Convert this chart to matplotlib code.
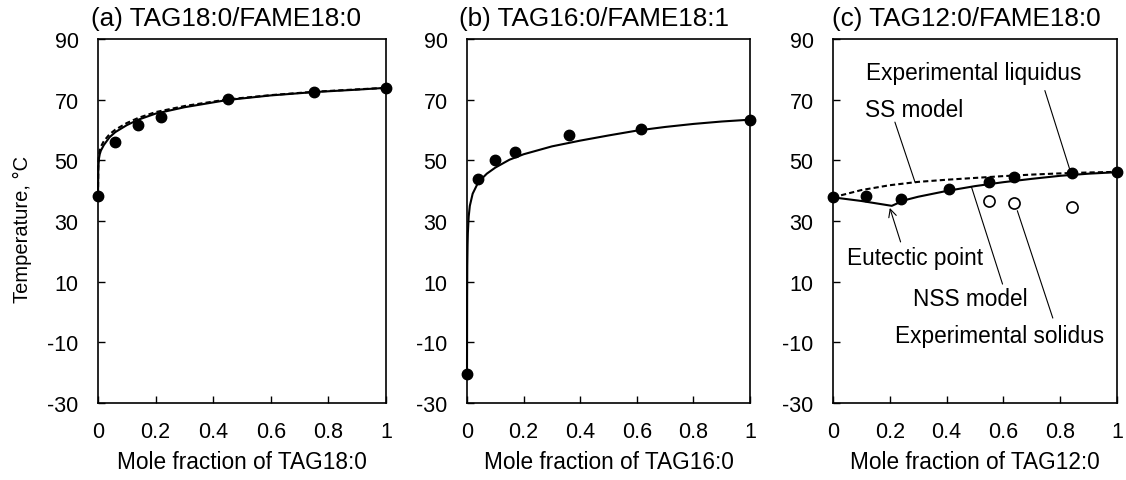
import numpy as np
import matplotlib.pyplot as plt

plt.rcParams['font.family'] = ['Liberation Sans', 'DejaVu Sans']
plt.rcParams['axes.unicode_minus'] = False

# (a) TAG18:0 / FAME18:0
a_x = [0, 0.06, 0.14, 0.22, 0.45, 0.75, 1.0]
a_y = [38.4, 56.0, 61.5, 64.3, 70.3, 72.5, 73.9]
a_line_x = [0, 0.001, 0.003, 0.006, 0.01, 0.02, 0.04, 0.06, 0.1, 0.14, 0.2, 0.3, 0.45, 0.6, 0.75, 0.9, 1.0]
a_nss_y = [38.4, 47.0, 50.4, 52.0, 53.2, 55.0, 57.6, 59.3, 61.6, 63.4, 65.4, 67.5, 69.9, 71.4, 72.5, 73.3, 73.9]
a_ss_y = [38.4, 48.5, 51.5, 53.2, 54.5, 56.3, 58.6, 60.1, 62.3, 64.0, 65.9, 67.9, 70.1, 71.5, 72.6, 73.4, 73.9]

# (b) TAG16:0 / FAME18:1
b_x = [0, 0.04, 0.10, 0.168, 0.36, 0.615, 1.0]
b_y = [-20.6, 43.8, 50.1, 52.6, 58.4, 60.3, 63.4]
b_line_x = [0, 0.0005, 0.001, 0.002, 0.003, 0.006, 0.01, 0.02, 0.04, 0.07, 0.1, 0.15, 0.2, 0.3, 0.4, 0.5, 0.6, 0.7, 0.8, 0.9, 1.0]
b_line_y = [-20.6, 5.0, 15.0, 22.0, 26.0, 31.5, 35.0, 39.0, 42.8, 45.6, 47.6, 50.2, 52.0, 54.6, 56.5, 58.2, 59.8, 61.0, 62.0, 62.8, 63.4]

# (c) TAG12:0 / FAME18:0
c_x = [0, 0.117, 0.24, 0.409, 0.551, 0.639, 0.842, 1.0]
c_y = [37.8, 38.3, 37.2, 40.5, 42.7, 44.4, 45.7, 46.0]
c_sol_x = [0.551, 0.639, 0.842]
c_sol_y = [36.6, 35.9, 34.5]
c_nss_x = [0, 0.1, 0.207, 0.25, 0.3, 0.4, 0.5, 0.6, 0.7, 0.8, 0.9, 1.0]
c_nss_y = [37.8, 36.6, 35.0, 36.8, 38.0, 39.9, 41.5, 42.8, 43.9, 44.9, 45.6, 46.1]
c_ss_x = [0, 0.1, 0.2, 0.3, 0.4, 0.5, 0.6, 0.7, 0.8, 0.9, 1.0]
c_ss_y = [37.8, 40.2, 41.8, 42.9, 43.6, 44.2, 44.8, 45.3, 45.7, 46.0, 46.2]

titles = ["(a) TAG18:0/FAME18:0", "(b) TAG16:0/FAME18:1", "(c) TAG12:0/FAME18:0"]
title_x = [0.443, 0.449, 0.47]
xlabels = ["Mole fraction of TAG18:0", "Mole fraction of TAG16:0", "Mole fraction of TAG12:0"]

W, H = 1126, 481
fig = plt.figure(figsize=(W / 100, H / 100), dpi=100)

# axes boxes in pixels: left, right
boxes = [(98, 386), (467, 750), (833, 1117)]
top, bottom = 40, 404
axes = []
for (l, r) in boxes:
    ax = fig.add_axes([l / W, 1 - bottom / H, (r - l) / W, (bottom - top) / H])
    axes.append(ax)

lw = 1.5
ms = 7.5
for i, ax in enumerate(axes):
    ax.set_xlim(0, 1)
    ax.set_ylim(-30, 90)
    ax.set_xticks(np.arange(0, 1.01, 0.2))
    ax.set_xticklabels(["0", "0.2", "0.4", "0.6", "0.8", "1"])
    ax.set_yticks(np.arange(-30, 91, 20))
    ax.tick_params(direction='in', length=5, width=1, labelsize=15.5)
    ax.tick_params(axis='y', pad=14)
    ax.tick_params(axis='x', pad=13)
    for s in ax.spines.values():
        s.set_linewidth(1.2)
    ax.set_xlabel(xlabels[i], fontsize=16.3, labelpad=6)
    ax.set_title(titles[i], fontsize=18.8, pad=10, x=title_x[i])

axes[0].set_ylabel("Temperature, \u00b0C", fontsize=14.5)
axes[0].yaxis.set_label_coords(-0.229, 0.48)

# (a)
ax = axes[0]
ax.plot(a_line_x, a_ss_y, color='black', lw=lw, ls=(0, (2.5, 1.5)), clip_on=False)
ax.plot(a_line_x, a_nss_y, color='black', lw=lw, clip_on=False)
ax.plot(a_x, a_y, 'o', color='black', ms=ms, clip_on=False, zorder=5)

# (b)
ax = axes[1]
ax.plot(b_line_x, b_line_y, color='black', lw=lw, clip_on=False)
ax.plot(b_x, b_y, 'o', color='black', ms=ms, clip_on=False, zorder=5)

# (c)
ax = axes[2]
ax.plot(c_ss_x, c_ss_y, color='black', lw=lw, ls=(0, (2.5, 1.5)), clip_on=False)
ax.plot(c_nss_x, c_nss_y, color='black', lw=lw, clip_on=False)
ax.plot(c_x, c_y, 'o', color='black', ms=ms, clip_on=False, zorder=5)
ax.plot(c_sol_x, c_sol_y, 'o', mfc='white', mec='black', mew=1.2, ms=8, clip_on=False, zorder=5)

fs = 16.3
thin = dict(arrowstyle='-', color='black', lw=0.8, shrinkA=0, shrinkB=0)
ax.text(0.496, 79.1, "Experimental liquidus", fontsize=fs, ha='center', va='center')
ax.annotate("", xy=(0.835, 46.6), xytext=(0.746, 73.0), arrowprops=thin)
ax.text(0.285, 66.9, "SS model", fontsize=fs, ha='center', va='center')
ax.annotate("", xy=(0.289, 42.75), xytext=(0.218, 62.6), arrowprops=thin)
ax.text(0.289, 18.1, "Eutectic point", fontsize=fs, ha='center', va='center')
ax.annotate("", xy=(0.2, 34.3), xytext=(0.238, 23.1),
            arrowprops=dict(arrowstyle='->', color='black', lw=0.8, mutation_scale=14,
                            shrinkA=0, shrinkB=0))
ax.text(0.484, 4.3, "NSS model", fontsize=fs, ha='center', va='center')
ax.annotate("", xy=(0.488, 41.1), xytext=(0.597, 9.2), arrowprops=thin)
ax.text(0.585, -7.8, "Experimental solidus", fontsize=fs, ha='center', va='center')
ax.annotate("", xy=(0.649, 33.4), xytext=(0.774, -2.0), arrowprops=thin)

fig.savefig("out.png", dpi=100)
